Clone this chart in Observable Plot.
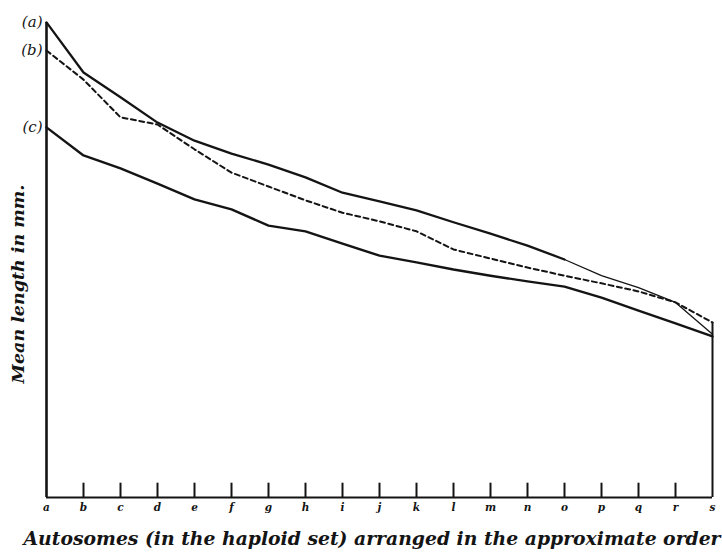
<!DOCTYPE html>
<html><head><meta charset="utf-8">
<script src="https://cdn.jsdelivr.net/npm/d3@7"></script>
<script src="https://cdn.jsdelivr.net/npm/@observablehq/plot@0.6"></script>
<style>body{margin:0;background:#fff} #chart svg{display:block;background:#fff}</style>
</head><body><div id="chart"></div>
<script>
// Autosomes in approximate order of length
const autosomes = ["a","b","c","d","e","f","g","h","i","j","k","l","m","n","o","p","q","r","s"];
// Mean length (arbitrary units) for the three series
const lengthA = [99.6, 89.1, 83.9, 78.6, 74.8, 72.1, 69.8, 67.1, 63.9, 62.1, 60.2, 57.7, 55.3, 52.8, 49.9, 46.5, 44.0, 40.9, 34.2];
const lengthB = [93.7, 87.6, 79.7, 78.2, 73.0, 68.1, 65.2, 62.3, 59.7, 57.9, 55.8, 52.0, 50.1, 48.2, 46.5, 44.9, 43.2, 40.9, 36.7];
const lengthC = [77.6, 71.7, 69.0, 65.8, 62.5, 60.4, 57.0, 55.8, 53.2, 50.7, 49.3, 47.8, 46.5, 45.3, 44.2, 41.9, 39.2, 36.5, 33.8];
const seriesLabels = ["(a)", "(b)", "(c)"];
const yTitle = "Mean length in mm.";
const xTitle = "Autosomes (in the haploid set) arranged in the approximate order";

const series = [lengthA, lengthB, lengthC];
const rows = [];
series.forEach((vals, k) => vals.forEach((v, i) => rows.push({series: seriesLabels[k], chromosome: autosomes[i], idx: i, length: v})));
const rowsA = rows.filter(d => d.series === "(a)");
const rowsB = rows.filter(d => d.series === "(b)");
const rowsC = rows.filter(d => d.series === "(c)");
const starts = rows.filter(d => d.idx === 0);
const last = autosomes[autosomes.length - 1];
const endMax = d3.max(series, s => s[s.length - 1]);
const tickLen = 3;
const ink = "#141414";

const chart = Plot.plot({
  width: 722, height: 552,
  marginLeft: 40, marginRight: 5, marginTop: 20, marginBottom: 55,
  style: {fontFamily: "'DejaVu Serif', serif", background: "#fff", color: ink},
  x: {type: "point", domain: autosomes, padding: 0},
  y: {domain: [0, 100], axis: null},
  marks: [
    Plot.ruleY([0], {x1: () => autosomes[0], x2: () => last, stroke: ink, strokeWidth: 2.2}),
    Plot.ruleX([autosomes[0]], {y1: 0, y2: lengthA[0], stroke: ink, strokeWidth: 2.6}),
    Plot.ruleX([last], {y1: 0, y2: endMax, stroke: ink, strokeWidth: 2}),
    Plot.ruleX(autosomes.slice(1, -1), {y1: 0, y2: tickLen, stroke: ink, strokeWidth: 2}),
    Plot.line(rowsA.filter(d => d.idx <= 14), {x: "chromosome", y: "length", stroke: ink, strokeWidth: 2.3}),
    Plot.line(rowsA.filter(d => d.idx >= 14), {x: "chromosome", y: "length", stroke: ink, strokeWidth: 1.3}),
    Plot.line(rowsB, {x: "chromosome", y: "length", stroke: ink, strokeWidth: 2, strokeDasharray: "5,3.5"}),
    Plot.line(rowsC, {x: "chromosome", y: "length", stroke: ink, strokeWidth: 2.4}),
    Plot.text(starts, {x: "chromosome", y: "length", text: "series", textAnchor: "end", dx: -4, fontSize: 15, fontStyle: "italic", fill: ink}),
    Plot.axisX({tickSize: 0, tickPadding: 6, fontSize: 10.5, fontStyle: "italic", fontWeight: "bold", label: null, fill: ink}),
    Plot.text([yTitle], {frameAnchor: "left", textAnchor: "middle", rotate: -90, dx: -22, dy: 25, fontSize: 17.5, fontStyle: "italic", fontWeight: "bold", fill: ink}),
    Plot.text([xTitle], {frameAnchor: "bottom", textAnchor: "middle", dx: -7, dy: 47, fontSize: 18.8, fontStyle: "italic", fontWeight: "bold", fill: ink})
  ]
});
document.getElementById("chart").append(chart);
</script>
</body></html>
